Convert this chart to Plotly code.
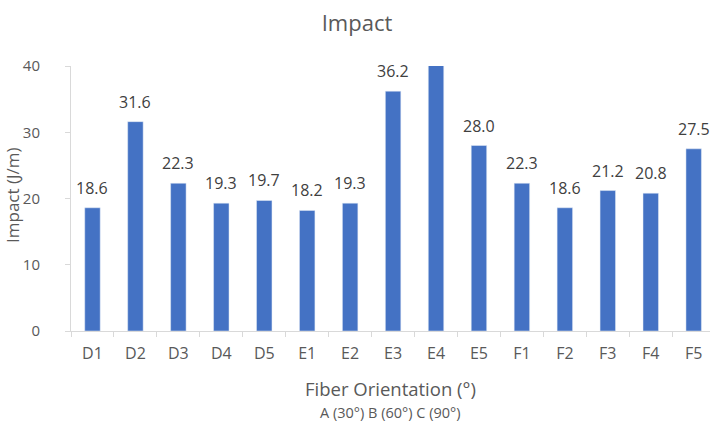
import plotly.graph_objects as go

# Specimen codes and measured impact strength (J/m)
specimens = ["D1", "D2", "D3", "D4", "D5", "E1", "E2", "E3", "E4", "E5",
             "F1", "F2", "F3", "F4", "F5"]
impact = [18.6, 31.6, 22.3, 19.3, 19.7, 18.2, 19.3, 36.2, 40.1, 28.0,
          22.3, 18.6, 21.2, 20.8, 27.5]
# E4 runs off the top of the axis, so its label is not shown
show_label = [True] * 8 + [False] + [True] * 6

text_gray = "#595959"
font_family = "Open Sans, Segoe UI, sans-serif"

W, H = 710, 422
M_L, M_R, M_T, M_B = 71, 0, 66, 91
plot_w = W - M_L - M_R
plot_h = H - M_T - M_B

fig = go.Figure(
    go.Bar(
        x=specimens,
        y=impact,
        marker_color="#4472C4",
        hoverinfo="x+y",
    )
)

# Value labels above each bar
value_labels = [
    dict(
        x=s, y=v, xref="x", yref="y",
        text=f"{v:.1f}",
        showarrow=False,
        yanchor="bottom",
        yshift=7,
        font=dict(size=16, color="#404040", family=font_family),
    )
    for s, v, show in zip(specimens, impact, show_label) if show
]


def paper_y(px_row):
    return (M_T + plot_h - px_row) / plot_h


def paper_x(px_col):
    return (px_col - M_L) / plot_w


captions = [
    dict(
        text="Fiber Orientation (°)",
        x=0.5, xref="paper", xanchor="center",
        y=paper_y(388), yref="paper", yanchor="middle",
        showarrow=False,
        font=dict(size=18.5, color=text_gray, family=font_family),
    ),
    dict(
        text="A (30°) B (60°) C (90°)",
        x=0.5, xref="paper", xanchor="center",
        y=paper_y(412), yref="paper", yanchor="middle",
        showarrow=False,
        font=dict(size=14.5, color=text_gray, family=font_family),
    ),
    dict(
        text="Impact (J/m)",
        textangle=-90,
        x=paper_x(12), xref="paper", xanchor="center",
        y=paper_y(195), yref="paper", yanchor="middle",
        showarrow=False,
        font=dict(size=17, color=text_gray, family=font_family),
    ),
]

fig.update_layout(
    width=W,
    height=H,
    margin=dict(l=M_L, r=M_R, t=M_T, b=M_B),
    paper_bgcolor="white",
    plot_bgcolor="white",
    bargap=0.64,
    showlegend=False,
    font=dict(family=font_family, color=text_gray),
    title=dict(
        text="Impact",
        x=357 / W,
        xanchor="center",
        y=1 - 23 / H,
        yanchor="middle",
        font=dict(size=22, color=text_gray, family=font_family),
    ),
    xaxis=dict(
        type="category",
        range=[-0.5, 14.38],
        showgrid=False,
        showline=True,
        linecolor="#d9d9d9",
        linewidth=1,
        ticks="outside",
        tickson="boundaries",
        ticklen=5,
        tickcolor="#d9d9d9",
        ticklabelstandoff=8,
        tickfont=dict(size=16, color=text_gray),
    ),
    yaxis=dict(
        range=[0, 40],
        tickvals=[0, 10, 20, 30, 40],
        showgrid=False,
        zeroline=False,
        showline=True,
        linecolor="#d9d9d9",
        linewidth=1,
        ticks="outside",
        ticklen=5,
        tickcolor="#d9d9d9",
        ticklabelstandoff=22,
        tickfont=dict(size=15, color=text_gray),
    ),
    annotations=value_labels + captions,
)

fig.write_html("out.html")
